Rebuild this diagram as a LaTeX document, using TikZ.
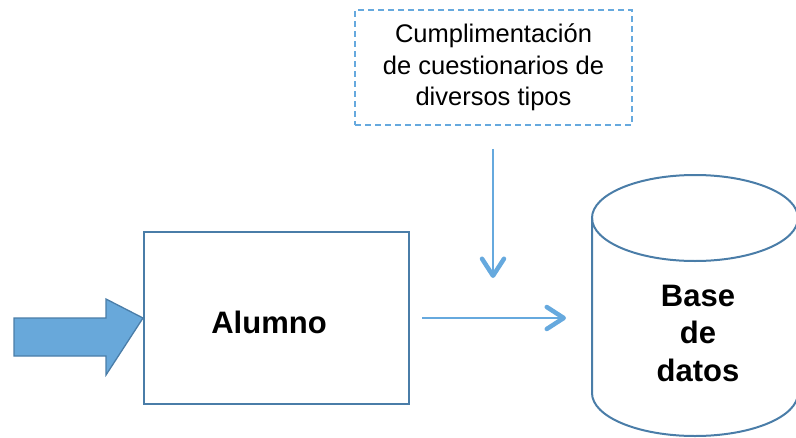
\documentclass[tikz,border=0pt]{standalone}
\usepackage{fontspec}
\setmainfont{Liberation Sans}
\usetikzlibrary{arrows.meta}
\definecolor{boxblue}{HTML}{4A7DA8}
\definecolor{fillblue}{HTML}{68A8DA}
\definecolor{lineblue}{HTML}{66A9DE}
\tikzset{
  mainbox/.style={draw=boxblue, line width=2pt, minimum width=265pt, minimum height=172pt, inner sep=0pt},
  notebox/.style={draw=lineblue, line width=1.5pt, dash pattern=on 6pt off 4pt, minimum width=277pt, minimum height=115pt, align=center, inner sep=0pt,
    font=\fontsize{25.5}{31.5}\selectfont},
  flow/.style={draw=lineblue, line width=2pt, -{Straight Barb[length=17pt,width=22pt,line width=4.5pt,round]}},
  bigtxt/.style={font=\fontsize{31}{37.5}\selectfont\bfseries, align=center},
  dbline/.style={draw=boxblue, line width=2pt}
}
\begin{document}
\begin{tikzpicture}[x=1pt,y=-1pt]
\useasboundingbox (0,0) rectangle (796,437);
% Alumno box
\node[mainbox] (alumno) at (276.5,318) {};
\node[bigtxt] (alumnotxt) at (269,322) {Alumno};
% block arrow
\draw[draw=boxblue, fill=fillblue, line width=1.3pt]
  (14,318) -- (106,318) -- (106,299) -- (alumno.west) -- (106,375) -- (106,356) -- (14,356) -- cycle;
% note box
\node[notebox] (cuest) at (493.5,67.5) {Cumplimentación\\de cuestionarios de\\diversos tipos};
% database cylinder
\begin{scope}
\clip (0,0) rectangle (796,437);
\draw[dbline] (695,218) ellipse [x radius=103, y radius=43];
\draw[dbline] (592,218) -- (592,393) arc[start angle=180, end angle=0, x radius=103, y radius=43] -- (798,218);
\end{scope}
\coordinate (dbleft) at (592,318);
\node[bigtxt] (db) at (698,333) {Base\\de\\datos};
\coordinate (vend) at (493,278);
% connectors
\draw[flow, shorten <=23pt] (cuest.south -| vend) -- (vend);
\draw[flow, shorten <=12pt, shorten >=26pt] (alumno.east) -- (dbleft);
\end{tikzpicture}
\end{document}
